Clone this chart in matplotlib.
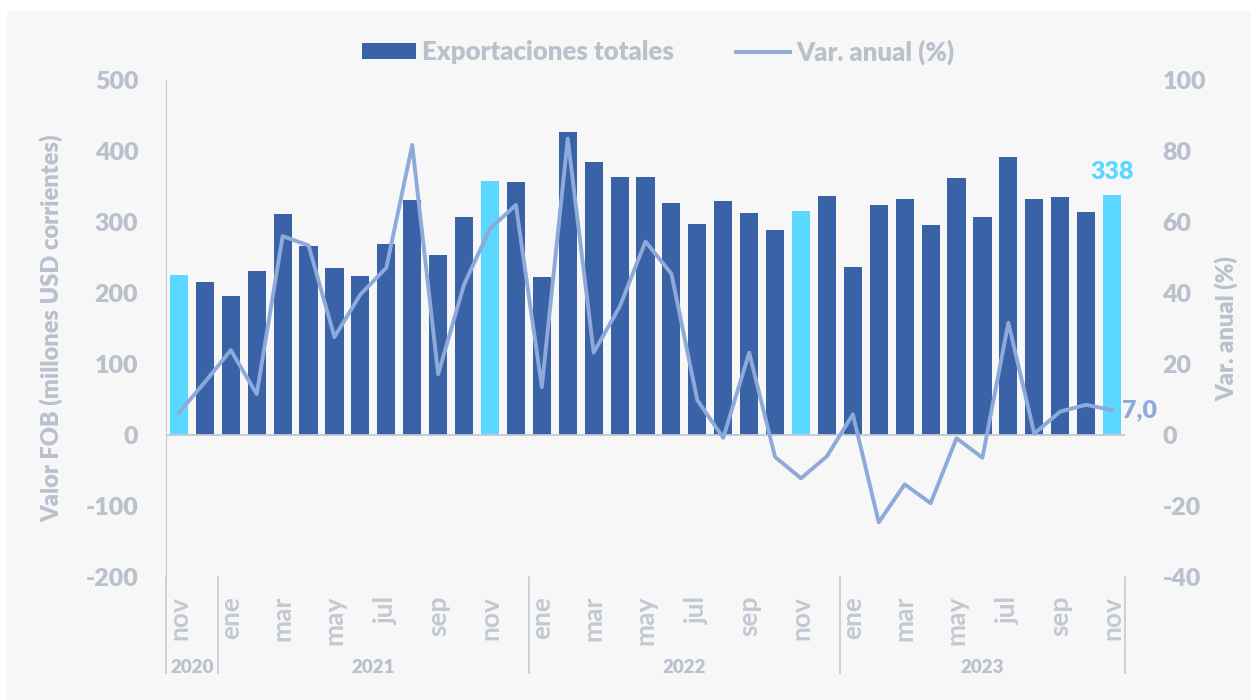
import matplotlib.pyplot as plt
from matplotlib.patches import Rectangle, Patch
import matplotlib.transforms as mtransforms
import numpy as np

plt.rcParams['font.family'] = ['Lato', 'DejaVu Sans']
plt.rcParams['axes.unicode_minus'] = False

# months nov-2020 .. nov-2023
months = ['nov', 'dic',
          'ene', 'feb', 'mar', 'abr', 'may', 'jun', 'jul', 'ago', 'sep', 'oct', 'nov', 'dic',
          'ene', 'feb', 'mar', 'abr', 'may', 'jun', 'jul', 'ago', 'sep', 'oct', 'nov', 'dic',
          'ene', 'feb', 'mar', 'abr', 'may', 'jun', 'jul', 'ago', 'sep', 'oct', 'nov']
years = ['2020', '2021', '2022', '2023']
year_sizes = [2, 12, 12, 11]

exports = [226, 215, 196, 231, 311, 266, 235, 224, 269, 331, 254, 307, 358,
           356, 223, 427, 385, 363, 363, 327, 297, 330, 313, 289, 316, 336,
           237, 324, 333, 296, 362, 307, 392, 332, 335, 314, 338]
var_anual = [6.3, 14.9, 23.9, 11.5, 56.0, 53.4, 27.6, 39.6, 47.1, 81.7, 17.1, 42.4, 58.1,
             64.8, 13.5, 83.5, 23.2, 36.1, 54.5, 45.4, 9.8, -0.8, 23.2, -6.2, -12.2, -6.0,
             5.8, -24.6, -13.9, -19.2, -0.9, -6.4, 31.6, 0.4, 6.6, 8.5, 7.0]

dark = '#3a62a7'
cyan = '#5bd8ff'
line_c = '#8eaadb'
txt = '#b9c1cc'
axis_c = '#c3cad3'

x = np.arange(len(exports))
colors = [cyan if m == 'nov' else dark for m in months]

fig = plt.figure(figsize=(12.51, 7), dpi=100)
fig.patch.set_facecolor('white')
fig.patches.append(Rectangle((7 / 1251, 0), 1, 1 - 11 / 700, transform=fig.transFigure,
                             facecolor='#f7f7f7', edgecolor='none', zorder=-10))

ax = fig.add_axes([166 / 1251, 1 - 577 / 700, (1125 - 166) / 1251, (577 - 80) / 700])
ax.set_facecolor('none')
ax.bar(x, exports, 0.7, color=colors, zorder=2)
ax.set_xlim(-0.5, len(x) - 0.5)
ax.set_ylim(-200, 500)
ax.set_yticks(range(-200, 501, 100))
ax.axhline(0, color=axis_c, lw=1.3, zorder=3)
for s in ['top', 'right', 'bottom']:
    ax.spines[s].set_visible(False)
ax.spines['left'].set_color(axis_c)
ax.tick_params(axis='y', length=0, labelsize=18, labelcolor=txt, pad=20)
ax.tick_params(axis='x', length=0, labelbottom=False)
for lab in ax.get_yticklabels():
    lab.set_fontweight('heavy')
ax.set_ylabel('Valor FOB (millones USD corrientes)', fontsize=17, color=txt,
              fontweight='heavy', labelpad=16)

ax2 = ax.twinx()
ln, = ax2.plot(x, var_anual, color=line_c, lw=2.8, zorder=4)
ax2.set_ylim(-40, 100)
ax2.set_yticks(range(-40, 101, 20))
for s in ax2.spines.values():
    s.set_visible(False)
ax2.tick_params(axis='y', length=0, labelsize=18, labelcolor=txt, pad=27)
for lab in ax2.get_yticklabels():
    lab.set_fontweight('heavy')
ax2.set_ylabel('Var. anual (%)', fontsize=17, color=txt, fontweight='heavy', labelpad=6)

# data labels
ax.annotate(f'{exports[-1]}', (x[-1], exports[-1]), xytext=(0, 9), textcoords='offset points',
            ha='center', va='bottom', color=cyan, fontsize=18, fontweight='heavy')
ax2.annotate(f'{var_anual[-1]:.1f}'.replace('.', ','), (x[-1], var_anual[-1]),
             xytext=(7, 0), textcoords='offset points', ha='left', va='center',
             color=line_c, fontsize=18, fontweight='heavy')

# category axis
trans = mtransforms.blended_transform_factory(ax.transData, ax.transAxes)
for i, m in enumerate(months):
    if i % 2 == 0:
        ax.text(i, -0.038, m, transform=trans, rotation=90, ha='center', va='top',
                fontsize=19, color='#c3c9d2', fontweight='bold')
start = -0.5
bounds = [start]
for name, n in zip(years, year_sizes):
    end = start + n
    bounds.append(end)
    ax.text((start + end) / 2, -0.183, name, transform=trans, ha='center',
            va='center', fontsize=13.5, color=txt, fontweight='heavy')
    start = end
for b in bounds:
    ax.plot([b, b], [0, -0.193], transform=trans, color=axis_c, lw=1.2, clip_on=False)

handles = [Patch(facecolor=dark), ln]
leg = fig.legend(handles, ['Exportaciones totales', 'Var. anual (%)'], loc='center',
                 bbox_to_anchor=(0.526, 0.926), ncol=2, frameon=False, fontsize=18.5,
                 handlelength=2.1, handleheight=0.55, handletextpad=0.25, columnspacing=2.4)
for t in leg.get_texts():
    t.set_color(txt)
    t.set_fontweight('heavy')

fig.savefig('out.png', dpi=100, facecolor=fig.get_facecolor())
